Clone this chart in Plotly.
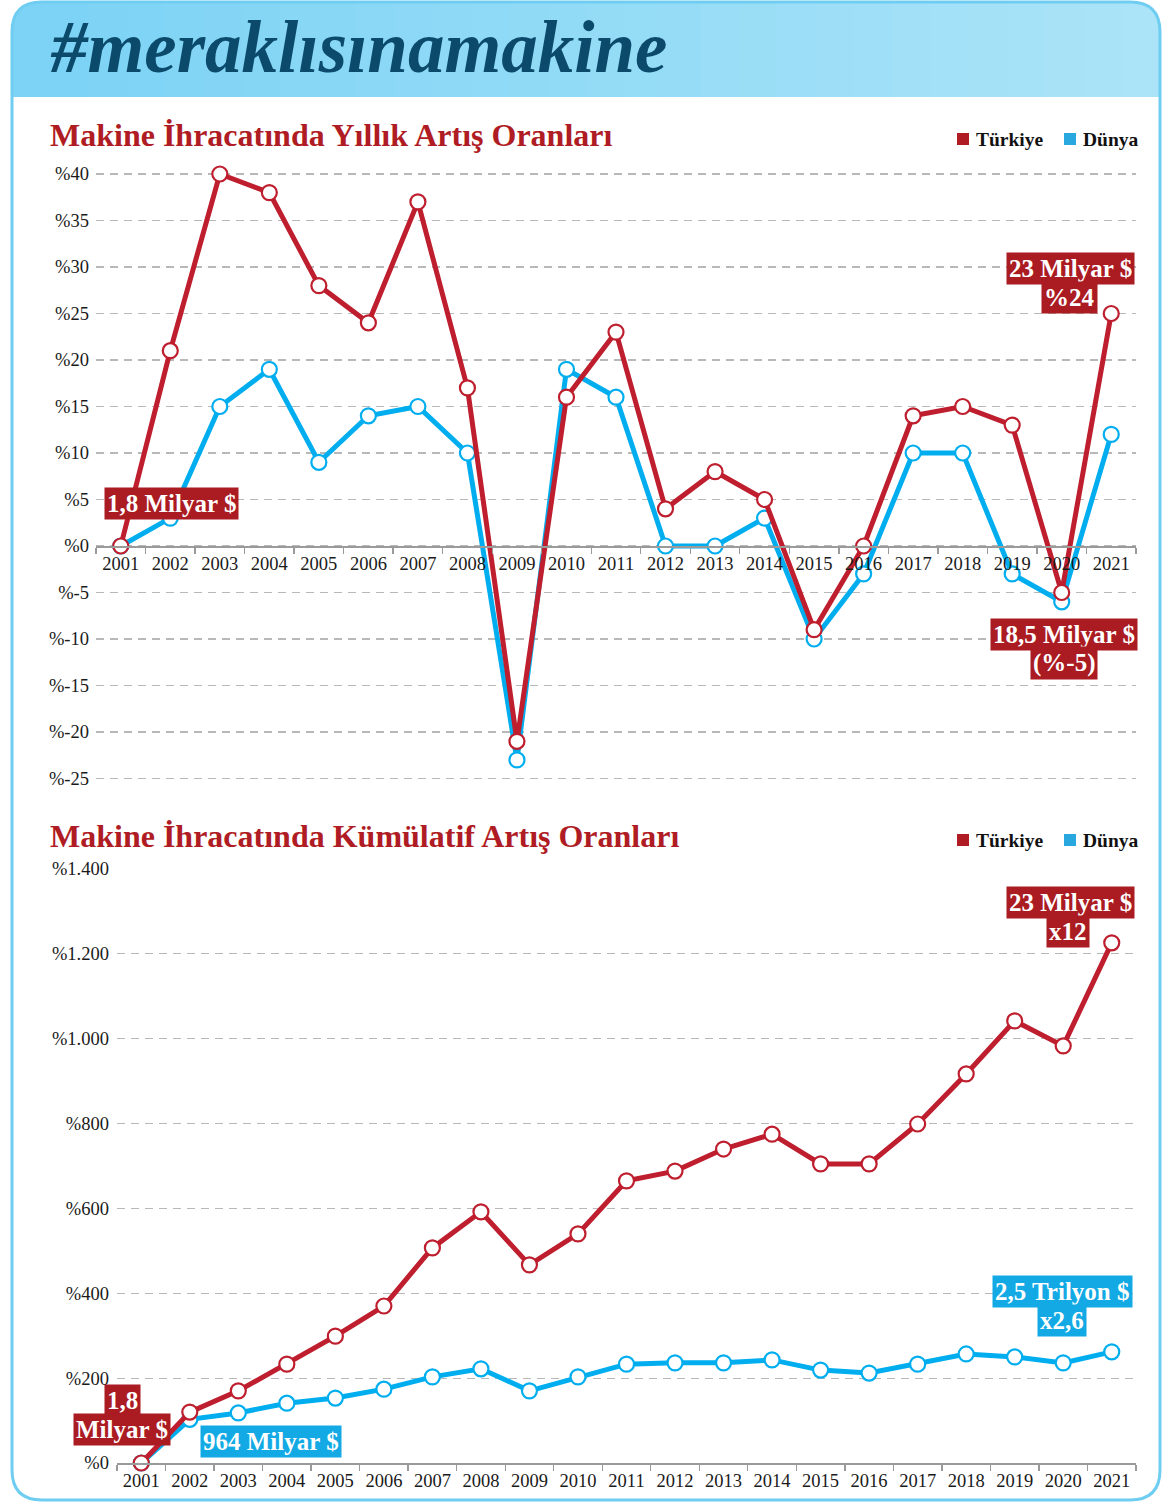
import plotly.graph_objects as go

# ---------------- data ----------------
years = list(range(2001, 2022))
turkiye_yillik = [0, 21, 40, 38, 28, 24, 37, 17, -21, 16, 23, 4, 8, 5, -9, 0, 14, 15, 13, -5, 25]
dunya_yillik = [0, 3, 15, 19, 9, 14, 15, 10, -23, 19, 16, 0, 0, 3, -10, -3, 10, 10, -3, -6, 12]

turkiye_kumulatif = [0, 120, 170, 233, 299, 370, 507, 592, 467, 540, 665, 688, 740, 775, 705, 705, 799, 917, 1042, 983, 1226]
dunya_kumulatif = [0, 103, 118, 141, 153, 174, 203, 222, 170, 203, 233, 236, 236, 243, 219, 212, 233, 257, 250, 236, 262]

top_tickvals = [40, 35, 30, 25, 20, 15, 10, 5, 0, -5, -10, -15, -20, -25]
top_ticktext = ["%40", "%35", "%30", "%25", "%20", "%15", "%10", "%5", "%0", "%-5", "%-10", "%-15", "%-20", "%-25"]
bot_tickvals = [1400, 1200, 1000, 800, 600, 400, 200, 0]
bot_ticktext = ["%1.400", "%1.200", "%1.000", "%800", "%600", "%400", "%200", "%0"]

header_text = "#meraklısınamakine"
title_top = "Makine İhracatında Yıllık Artış Oranları"
title_bot = "Makine İhracatında Kümülatif Artış Oranları"
series_names = ["Türkiye", "Dünya"]

# ---------------- style ----------------
W, H = 1168, 1503
RED = "#be1e2d"
RED_BOX = "#ab1b22"
BLUE = "#00aeef"
BLUE_BOX = "#12a9e5"
TITLE_RED = "#b01c24"
FONT = "Liberation Serif"

def fx(x):
    return x / W

def fy(y):
    return 1 - y / H

fig = go.Figure()

def add_series(xa, ya, yvals, color, name):
    fig.add_trace(go.Scatter(
        x=years, y=yvals, mode="lines+markers", name=name,
        xaxis=xa, yaxis=ya, showlegend=False, cliponaxis=False,
        line=dict(color=color, width=5),
        marker=dict(size=15, color="white", line=dict(color=color, width=2.2)),
    ))

add_series("x", "y", dunya_yillik, BLUE, series_names[1])
add_series("x", "y", turkiye_yillik, RED, series_names[0])
add_series("x2", "y2", dunya_kumulatif, BLUE, series_names[1])
add_series("x2", "y2", turkiye_kumulatif, RED, series_names[0])

# top chart geometry
top_k = 9.3
top_zero_px = 546
top_dom_px = (160, 790)
top_range = [(top_zero_px - top_dom_px[1]) / top_k, (top_zero_px - top_dom_px[0]) / top_k]

bot_zero_px = 1463
bot_top_px = 869

tickfont = dict(family=FONT, size=18.5, color="#1a1a1a")
grid = dict(showgrid=True, gridcolor="#b8b8b8", gridwidth=1.2, griddash="8px,6px", zeroline=False)
xcommon = dict(
    range=[2000.5, 2021.5], tickmode="array", tickvals=years, ticktext=[str(y) for y in years],
    ticks="outside", ticklen=0, tickfont=tickfont, ticklabelstandoff=0,
    showline=True, linecolor="#9a9a9a", linewidth=1.5,
    showgrid=False, zeroline=False, fixedrange=True, automargin=False,
    minor=dict(tick0=2000.5, dtick=1, ticks="outside", ticklen=6, tickcolor="#9a9a9a", tickwidth=1.3, showgrid=False),
)

fig.update_layout(
    template="none",
    width=W, height=H, autosize=False,
    margin=dict(l=0, r=0, t=0, b=0, pad=0, autoexpand=False),
    paper_bgcolor="white", plot_bgcolor="rgba(0,0,0,0)",
    showlegend=False,
    xaxis=dict(domain=[fx(96), fx(1136)], anchor="free", position=fy(top_zero_px), **xcommon),
    yaxis=dict(
        domain=[fy(top_dom_px[1]), fy(top_dom_px[0])], range=top_range,
        anchor="x", tickmode="array", tickvals=top_tickvals, ticktext=top_ticktext,
        tickfont=tickfont, ticks="", ticklabelstandoff=6, showline=False, fixedrange=True,
        automargin=False, **grid,
    ),
    xaxis2=dict(domain=[fx(117), fx(1136)], anchor="y2", **xcommon),
    yaxis2=dict(
        domain=[fy(bot_zero_px), fy(bot_top_px)], range=[0, 1400], anchor="x2",
        tickmode="array", tickvals=bot_tickvals, ticktext=bot_ticktext,
        tickfont=tickfont, ticks="", ticklabelstandoff=7, showline=False, fixedrange=True,
        automargin=False, **grid,
    ),
)

shapes = []
# header gradient strips
c0 = (0x7c, 0xd3, 0xf5)
c1 = (0xab, 0xe4, 0xf8)
N = 30
x_left, x_right, y_top, y_bot, r = 12, 1160, 2, 97, 30
sw = (x_right - x_left) / N
for i in range(N):
    t = i / (N - 1)
    col = "rgb(%d,%d,%d)" % tuple(int(c0[j] + (c1[j] - c0[j]) * t) for j in range(3))
    xa = x_left + i * sw
    xb = xa + sw + 0.8
    if i == 0:
        path = (f"M {fx(xa)},{fy(y_bot)} L {fx(xa)},{fy(y_top + r)} "
                f"Q {fx(xa)},{fy(y_top)} {fx(xa + r)},{fy(y_top)} L {fx(xb)},{fy(y_top)} L {fx(xb)},{fy(y_bot)} Z")
        shapes.append(dict(type="path", path=path, xref="paper", yref="paper", fillcolor=col, line=dict(width=0), layer="below"))
    elif i == N - 1:
        xb = x_right
        path = (f"M {fx(xa)},{fy(y_bot)} L {fx(xa)},{fy(y_top)} L {fx(xb - r)},{fy(y_top)} "
                f"Q {fx(xb)},{fy(y_top)} {fx(xb)},{fy(y_top + r)} L {fx(xb)},{fy(y_bot)} Z")
        shapes.append(dict(type="path", path=path, xref="paper", yref="paper", fillcolor=col, line=dict(width=0), layer="below"))
    else:
        shapes.append(dict(type="rect", x0=fx(xa), x1=fx(xb), y0=fy(y_bot), y1=fy(y_top),
                           xref="paper", yref="paper", fillcolor=col, line=dict(width=0), layer="below"))

# frame
yb = 1500
frame = (f"M {fx(x_left)},{fy(y_top + r)} Q {fx(x_left)},{fy(y_top)} {fx(x_left + r)},{fy(y_top)} "
         f"L {fx(x_right - r)},{fy(y_top)} Q {fx(x_right)},{fy(y_top)} {fx(x_right)},{fy(y_top + r)} "
         f"L {fx(x_right)},{fy(yb - r)} Q {fx(x_right)},{fy(yb)} {fx(x_right - r)},{fy(yb)} "
         f"L {fx(x_left + r)},{fy(yb)} Q {fx(x_left)},{fy(yb)} {fx(x_left)},{fy(yb - r)} Z")
shapes.append(dict(type="path", path=frame, xref="paper", yref="paper", line=dict(color="#70cdf2", width=3), layer="below"))

# legend squares
for ly in (139, 840):
    shapes.append(dict(type="rect", xref="paper", yref="paper", x0=fx(957), x1=fx(969), y0=fy(ly + 6), y1=fy(ly - 6),
                       fillcolor="#b01c24", line=dict(width=0)))
    shapes.append(dict(type="rect", xref="paper", yref="paper", x0=fx(1064), x1=fx(1076), y0=fy(ly + 6), y1=fy(ly - 6),
                       fillcolor="#29a8e0", line=dict(width=0)))

fig.update_layout(shapes=shapes)

ann = []
ann.append(dict(text=header_text, x=fx(48), y=fy(47), xanchor="left", yanchor="middle",
                font=dict(family=FONT, size=73, color="#0b4a6b", weight="bold", style="italic")))
for txt, yy in ((title_top, 135), (title_bot, 836)):
    ann.append(dict(text=txt, x=fx(48), y=fy(yy), xanchor="left", yanchor="middle",
                    font=dict(family=FONT, size=32, color=TITLE_RED, weight="bold")))
for ly in (139, 840):
    ann.append(dict(text=series_names[0], x=fx(974), y=fy(ly), xanchor="left", yanchor="middle",
                    font=dict(family=FONT, size=19.5, color="#111", weight="bold")))
    ann.append(dict(text=series_names[1], x=fx(1081), y=fy(ly), xanchor="left", yanchor="middle",
                    font=dict(family=FONT, size=19.5, color="#111", weight="bold")))

def box(text, cx, cy, bg):
    ann.append(dict(text=text, x=fx(cx), y=fy(cy), xanchor="center", yanchor="middle",
                    bgcolor=bg, borderpad=2, showarrow=False,
                    font=dict(family=FONT, size=25, color="white", weight="bold")))

box("1,8 Milyar $", 171, 504, RED_BOX)
box("23 Milyar $", 1070, 268, RED_BOX)
box("%24", 1069, 297, RED_BOX)
box("18,5 Milyar $", 1064, 634, RED_BOX)
box("(%-5)", 1064, 663, RED_BOX)
box("23 Milyar $", 1070, 902, RED_BOX)
box("x12", 1068, 931, RED_BOX)
box("2,5 Trilyon $", 1062, 1291, BLUE_BOX)
box("x2,6", 1062, 1320, BLUE_BOX)
box("1,8", 122, 1400, RED_BOX)
box("Milyar $", 122, 1429, RED_BOX)
box("964 Milyar $", 271, 1441, BLUE_BOX)

for a in ann:
    a.setdefault("showarrow", False)
    a["xref"] = "paper"
    a["yref"] = "paper"
fig.update_layout(annotations=ann)

fig.write_html(
    "out.html",
    config={"displayModeBar": False, "staticPlot": True},
    post_script=(
        "document.documentElement.style.margin='0';"
        "document.documentElement.style.overflow='hidden';"
        "document.body.style.margin='0';document.body.style.padding='0';"
        "document.body.style.overflow='hidden';"
        "var d=document.getElementById('{plot_id}');"
        "d.style.position='fixed';d.style.top='0px';d.style.left='0px';"
    ),
)
